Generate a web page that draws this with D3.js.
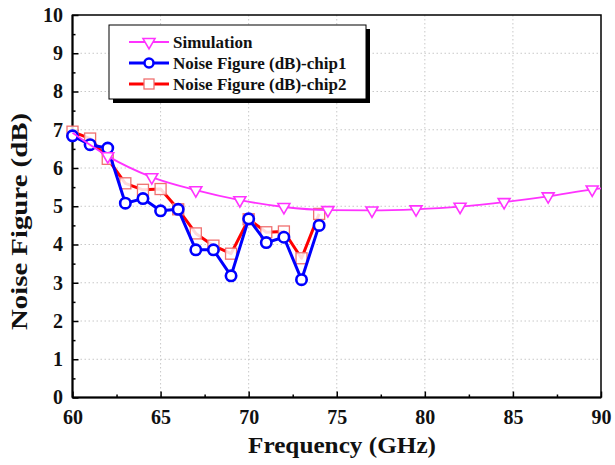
<!DOCTYPE html>
<html><head><meta charset="utf-8">
<script src="https://cdn.jsdelivr.net/npm/d3@7"></script>
<style>html,body{margin:0;padding:0;background:#fff;}svg{display:block;}</style>
</head><body>
<script>
// ---- data ----
const chipFreq = [60,61,62,63,64,65,66,67,68,69,70,71,72,73,74];
const chip1NF = [6.84,6.61,6.52,5.08,5.20,4.88,4.92,3.86,3.86,3.18,4.67,4.05,4.19,3.08,4.50];
const chip2NF = [6.95,6.77,6.24,5.60,5.43,5.45,4.92,4.29,3.97,3.76,4.66,4.32,4.34,3.64,4.80];
const simFreq = [60,62,64.5,67,69.5,72,74.5,77,79.5,82,84.5,87,89.5,90];
const simNF = [6.92,6.31,5.76,5.42,5.16,4.98,4.90,4.89,4.92,4.99,5.11,5.26,5.44,5.47];
const xTicks = [60,65,70,75,80,85,90];
const yTicks = [0,1,2,3,4,5,6,7,8,9,10];
const legendLabels = ["Simulation","Noise Figure (dB)-chip1","Noise Figure (dB)-chip2"];
const xTitle = "Frequency (GHz)";
const yTitle = "Noise Figure (dB)";

// ---- layout ----
const W = 615, H = 465;
const L = 72.5, R = 601, T = 15, B = 397.5;
const font = "'Liberation Serif','Times New Roman',serif";
const cSim = "#ff33ff", c1 = "#0000ff", c2 = "#ff0000", c2m = "#f07070";

const svg = d3.select("body").append("svg").attr("width", W).attr("height", H);
svg.append("rect").attr("width", W).attr("height", H).attr("fill", "#fff");

const x = d3.scaleLinear().domain([60, 90]).range([L, R]);
const y = d3.scaleLinear().domain([0, 10]).range([B, T]);

// grid
const grid = svg.append("g").attr("stroke", "#c8c8c8").attr("stroke-width", 1).attr("stroke-dasharray", "1.5,2.5");
grid.selectAll(".gx").data(xTicks.slice(1, -1)).join("line")
  .attr("x1", d => x(d)).attr("x2", d => x(d)).attr("y1", T).attr("y2", B);
grid.selectAll(".gy").data(yTicks.slice(1, -1)).join("line")
  .attr("y1", d => y(d)).attr("y2", d => y(d)).attr("x1", L).attr("x2", R);

// axes (ticks inward)
const xAxis = d3.axisBottom(x).tickValues(xTicks).tickSize(-6).tickPadding(12).tickFormat(d3.format("d"));
const xMinor = d3.axisBottom(x).tickValues(d3.range(62.5, 90, 5)).tickSize(-3).tickFormat("");
const yAxis = d3.axisLeft(y).tickValues(yTicks).tickSize(-6).tickPadding(9.5).tickFormat(d3.format("d"));
const yMinor = d3.axisLeft(y).tickValues(d3.range(0.5, 10, 1)).tickSize(-3).tickFormat("");

function styleAxis(g) {
  g.select(".domain").remove();
  g.selectAll("line").attr("stroke", "#000").attr("stroke-width", 1.5);
  g.selectAll("text").attr("font-family", font).attr("font-weight", "bold").attr("font-size", 20).attr("fill", "#111");
}
svg.append("g").attr("transform", `translate(0,${B})`).call(xAxis).call(styleAxis);
svg.append("g").attr("transform", `translate(0,${B})`).call(xMinor).call(styleAxis);
svg.append("g").attr("transform", `translate(${L},0)`).call(yAxis).call(styleAxis);
svg.append("g").attr("transform", `translate(${L},0)`).call(yMinor).call(styleAxis);

// frame
svg.append("rect").attr("x", L).attr("y", T).attr("width", R - L).attr("height", B - T)
  .attr("fill", "none").attr("stroke", "#000").attr("stroke-width", 1.5);
svg.append("line").attr("x1", L).attr("x2", L).attr("y1", T).attr("y2", B).attr("stroke", "#000").attr("stroke-width", 2);
svg.append("line").attr("x1", L).attr("x2", R).attr("y1", B).attr("y2", B).attr("stroke", "#000").attr("stroke-width", 2);

// titles
svg.append("text").attr("x", 342).attr("y", 453).attr("text-anchor", "middle")
  .attr("textLength", 188).attr("lengthAdjust", "spacingAndGlyphs")
  .attr("font-family", font).attr("font-weight", "bold").attr("font-size", 23).attr("fill", "#111").text(xTitle);
svg.append("text").attr("transform", `translate(27,221.5) rotate(-90)`).attr("text-anchor", "middle")
  .attr("textLength", 217).attr("lengthAdjust", "spacingAndGlyphs")
  .attr("font-family", font).attr("font-weight", "bold").attr("font-size", 23).attr("fill", "#111").text(yTitle);

// series
const line = d3.line().x(d => x(d[0])).y(d => y(d[1]));
const chip1 = chipFreq.map((f, i) => [f, chip1NF[i]]);
const chip2 = chipFreq.map((f, i) => [f, chip2NF[i]]);
const sim = simFreq.map((f, i) => [f, simNF[i]]);

const plot = svg.append("g");
// chip2 (red)
plot.append("path").datum(chip2).attr("d", line).attr("fill", "none").attr("stroke", c2).attr("stroke-width", 3).attr("stroke-linejoin", "round");
plot.selectAll(".sq").data(chip2).join("rect")
  .attr("x", d => x(d[0]) - 5.5).attr("y", d => y(d[1]) - 5.5).attr("width", 11).attr("height", 11)
  .attr("fill", "#fff").attr("fill-opacity", 0.85).attr("stroke", c2m).attr("stroke-width", 1.3);
// chip1 (blue)
plot.append("path").datum(chip1).attr("d", line).attr("fill", "none").attr("stroke", c1).attr("stroke-width", 3).attr("stroke-linejoin", "round");
plot.selectAll(".ci").data(chip1).join("circle")
  .attr("cx", d => x(d[0])).attr("cy", d => y(d[1])).attr("r", 5.2)
  .attr("fill", "#fff").attr("stroke", c1).attr("stroke-width", 2.6);
// simulation (magenta)
plot.append("path").datum(sim).attr("d", d3.line().curve(d3.curveMonotoneX).x(d => x(d[0])).y(d => y(d[1])))
  .attr("fill", "none").attr("stroke", cSim).attr("stroke-width", 1.8);
const tri = d3.symbol().type(d3.symbolTriangle).size(62);
plot.selectAll(".tr").data(sim.filter((d, i) => i > 0 && i < sim.length - 1)).join("path")
  .attr("d", tri).attr("transform", d => `translate(${x(d[0])},${y(d[1])}) rotate(180)`)
  .attr("fill", "#fff").attr("stroke", cSim).attr("stroke-width", 1.6);

// legend
const lg = svg.append("g");
const lx = 109, ly = 25, lw = 257, lh = 74;
lg.append("rect").attr("x", lx + 4).attr("y", ly + 4).attr("width", lw).attr("height", lh).attr("fill", "#000");
lg.append("rect").attr("x", lx).attr("y", ly).attr("width", lw).attr("height", lh).attr("fill", "#fff").attr("stroke", "#000").attr("stroke-width", 1);
const rowsY = [42, 63, 84];
const colors = [cSim, c1, c2];
legendLabels.forEach((lab, i) => {
  const yy = rowsY[i];
  lg.append("line").attr("x1", 129).attr("x2", 169).attr("y1", yy).attr("y2", yy)
    .attr("stroke", colors[i]).attr("stroke-width", i === 0 ? 1.8 : 3);
  if (i === 0) {
    lg.append("path").attr("d", tri).attr("transform", `translate(149,${yy}) rotate(180)`)
      .attr("fill", "#fff").attr("stroke", cSim).attr("stroke-width", 1.6);
  } else if (i === 1) {
    lg.append("circle").attr("cx", 149).attr("cy", yy).attr("r", 4.5).attr("fill", "#fff").attr("stroke", c1).attr("stroke-width", 2.5);
  } else {
    lg.append("rect").attr("x", 144).attr("y", yy - 5).attr("width", 10).attr("height", 10).attr("fill", "#fff").attr("stroke", c2m).attr("stroke-width", 1.3);
  }
  lg.append("text").attr("x", 173).attr("y", yy + 5.5).attr("font-family", font).attr("font-weight", "bold")
    .attr("font-size", 17).attr("fill", "#111").text(lab);
});
</script>
</body></html>
